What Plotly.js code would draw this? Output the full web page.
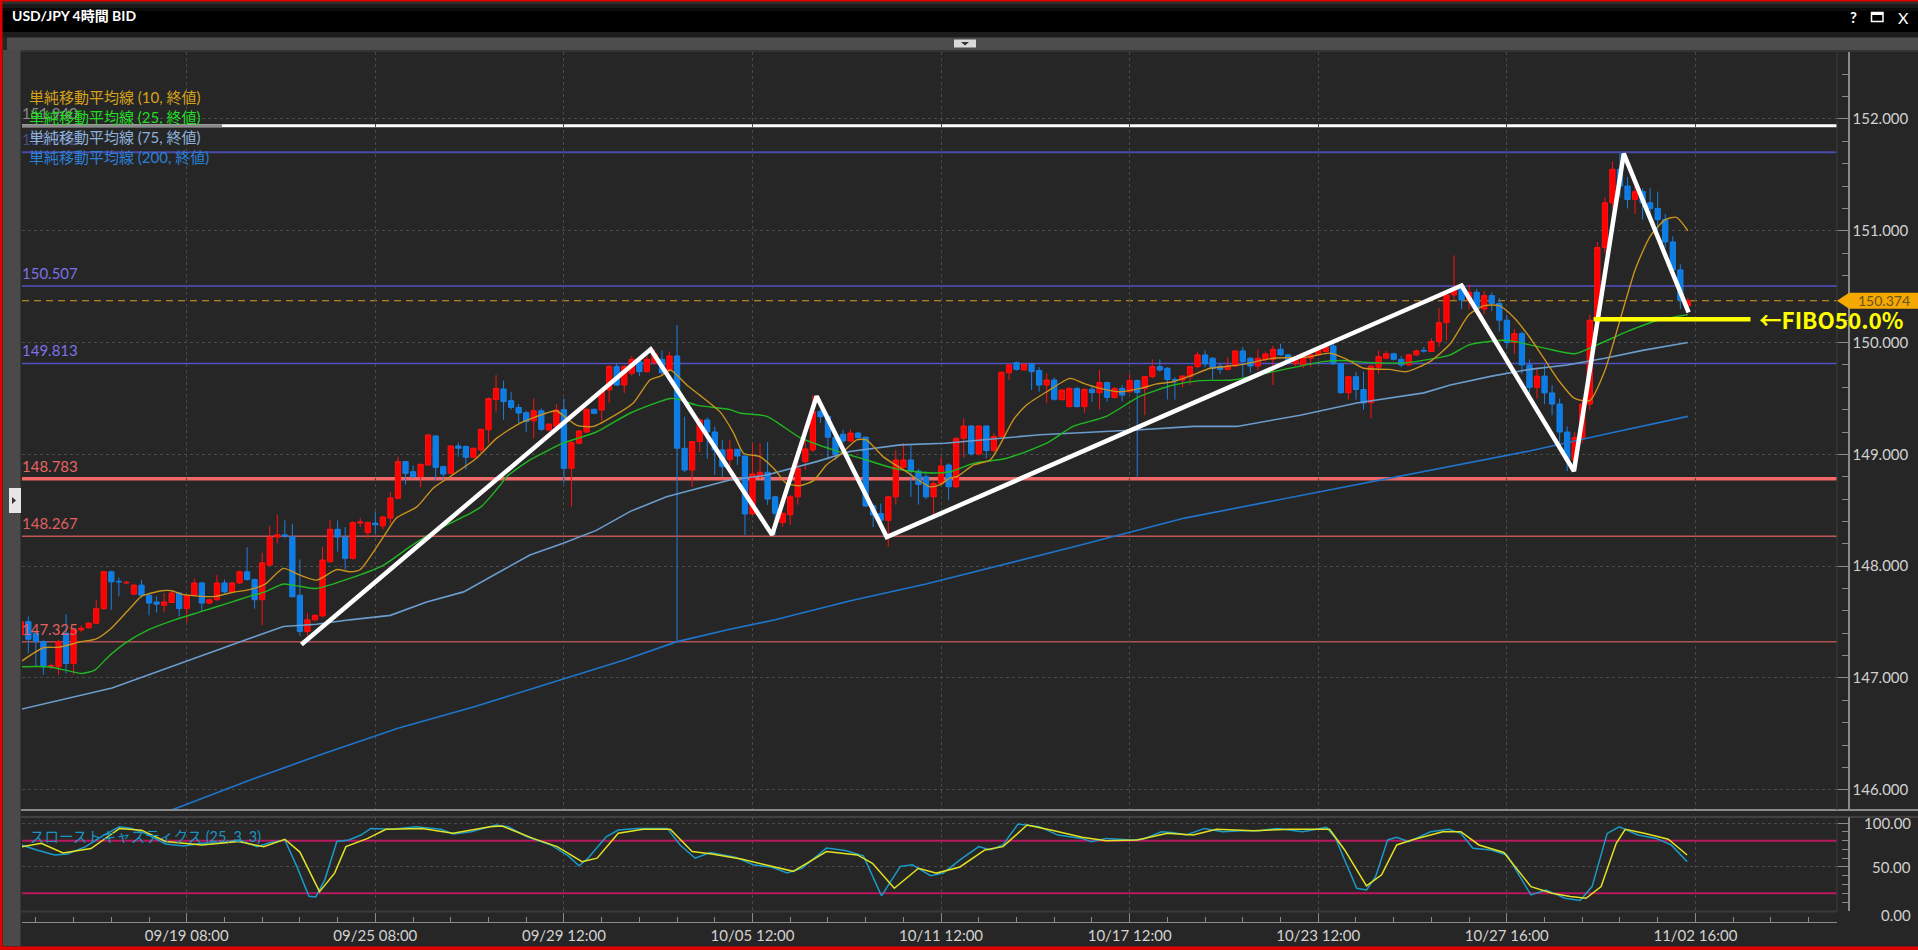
<!DOCTYPE html>
<html><head><meta charset="utf-8">
<script src="https://cdn.plot.ly/plotly-3.0.1.min.js"></script>
<style>html,body{margin:0;padding:0;background:#262626;overflow:hidden}#chart{width:1918px;height:950px}</style>
</head><body><div id="chart"></div><script>
// ---------------- DATA ----------------
const opens = [147.385,147.504,147.40,147.325,147.10,147.10,147.40,147.13,147.43,147.45,
147.49,147.62,147.95,147.865,147.85,147.75,147.83,147.74,147.68,147.65,
147.675,147.76,147.62,147.74,147.85,147.67,147.70,147.85,147.77,147.85,
147.95,147.88,147.70,148.01,148.26,148.28,148.264,147.74,147.415,147.52,
147.555,148.04,148.33,148.26,148.07,148.385,148.30,148.385,148.36,148.43,
148.607,148.935,148.845,148.80,148.905,149.165,148.89,148.83,149.075,149.07,
148.974,149.04,149.22,149.49,149.585,149.48,149.42,149.373,149.30,149.39,
149.218,149.25,149.40,148.875,149.10,149.20,149.403,149.397,149.576,149.785,
149.62,149.725,149.83,149.74,149.82,149.85,149.755,149.88,149.054,148.86,
149.114,149.308,149.20,149.04,148.956,149.045,148.985,148.467,148.80,148.84,
148.62,148.39,148.46,148.62,148.935,149.04,149.383,149.34,149.15,149.18,
149.12,149.19,149.153,148.54,148.47,148.41,148.62,148.885,148.95,148.85,
148.80,148.62,148.74,148.905,148.71,149.144,149.254,149.003,149.254,149.034,
149.16,149.73,149.82,149.755,149.81,149.75,149.62,149.665,149.49,149.427,
149.59,149.427,149.582,149.552,149.642,149.51,149.59,149.56,149.66,149.59,
149.695,149.785,149.77,149.67,149.665,149.695,149.785,149.889,149.86,149.79,
149.76,149.79,149.925,149.86,149.79,149.85,149.85,149.94,149.89,149.81,
149.80,149.86,149.89,149.92,149.97,149.81,149.552,149.695,149.58,149.462,
149.78,149.86,149.90,149.85,149.80,149.89,149.93,149.92,150.01,150.178,
150.426,150.48,150.38,150.45,150.30,150.42,150.35,150.20,150.00,150.08,
149.80,149.60,149.70,149.55,149.45,149.20,148.95,149.15,149.45,150.20,
150.85,151.25,151.55,151.40,151.28,151.35,151.25,151.20,151.10,150.90,
150.65,150.33];
const highs = [147.55,147.55,147.43,147.34,147.13,147.34,147.57,147.45,147.47,147.50,
147.70,147.96,147.96,147.90,147.87,147.84,147.88,147.75,147.73,147.76,
147.77,147.77,147.75,147.89,147.86,147.71,147.92,147.88,147.86,147.96,
148.17,147.89,148.12,148.36,148.46,148.41,148.38,148.06,147.58,147.57,
148.17,148.41,148.41,148.35,148.40,148.43,148.40,148.49,148.45,148.66,
148.98,148.94,148.90,148.92,149.18,149.17,148.90,149.08,149.105,149.08,
149.06,149.23,149.51,149.71,149.66,149.56,149.45,149.39,149.50,149.41,
149.28,149.45,149.50,149.12,149.22,149.41,149.41,149.57,149.80,149.82,
149.80,149.88,149.87,149.88,149.94,149.93,149.92,150.157,149.337,149.12,
149.32,149.33,149.25,149.13,149.13,149.05,148.99,149.10,149.10,149.11,
148.63,148.48,148.64,148.93,149.13,149.531,149.40,149.35,149.20,149.22,
149.225,149.20,149.16,148.55,148.56,148.63,149.04,149.10,149.08,148.87,
148.85,148.76,148.974,148.92,149.15,149.32,149.26,149.26,149.26,149.19,
149.74,149.81,149.83,149.82,149.82,149.78,149.725,149.69,149.58,149.60,
149.60,149.59,149.61,149.755,149.65,149.60,149.62,149.72,149.67,149.70,
149.85,149.85,149.78,149.69,149.71,149.79,149.92,149.93,149.87,149.81,
149.87,149.93,149.96,149.87,149.94,149.92,149.97,149.99,149.90,149.88,
149.91,149.92,149.95,149.98,149.99,149.82,149.70,149.74,149.74,149.80,
149.93,149.925,149.91,149.88,149.90,149.94,149.96,150.04,150.307,150.43,
150.78,150.51,150.52,150.48,150.46,150.45,150.40,150.25,150.12,150.10,
149.85,149.78,149.80,149.62,149.50,149.25,149.20,149.50,150.25,150.90,
151.30,151.62,151.70,151.48,151.40,151.38,151.38,151.35,151.15,150.95,
150.70,150.40];
const lows = [147.36,147.22,147.10,147.03,147.08,147.03,147.04,147.03,147.41,147.44,
147.48,147.61,147.61,147.73,147.84,147.74,147.72,147.56,147.585,147.585,
147.67,147.55,147.50,147.73,147.59,147.66,147.69,147.76,147.76,147.84,
147.87,147.62,147.47,148.00,148.205,148.25,147.72,147.376,147.38,147.51,
147.54,148.03,148.13,147.97,148.06,148.35,148.25,148.29,148.33,148.38,
148.60,148.73,148.79,148.705,148.90,148.77,148.76,148.82,148.98,148.866,
148.97,149.00,149.10,149.38,149.31,149.40,149.28,149.20,149.144,149.21,
149.21,149.24,148.741,148.533,149.09,149.19,149.36,149.30,149.46,149.61,
149.55,149.70,149.70,149.73,149.80,149.72,149.74,147.325,148.84,148.71,
149.02,148.96,148.816,148.80,148.89,148.905,148.279,148.46,148.78,148.548,
148.28,148.35,148.37,148.55,148.86,149.02,149.28,148.95,148.95,149.10,
149.11,149.14,148.53,148.35,148.40,148.175,148.55,148.87,148.62,148.55,
148.60,148.428,148.72,148.59,148.70,148.97,148.99,148.99,148.965,149.02,
149.15,149.665,149.75,149.75,149.576,149.56,149.46,149.48,149.48,149.42,
149.42,149.373,149.47,149.40,149.47,149.50,149.47,149.55,148.80,149.35,
149.68,149.74,149.49,149.49,149.60,149.62,149.77,149.78,149.67,149.72,
149.75,149.78,149.69,149.73,149.75,149.83,149.62,149.88,149.82,149.79,
149.77,149.78,149.88,149.91,149.80,149.54,149.49,149.49,149.40,149.323,
149.72,149.85,149.84,149.78,149.79,149.88,149.91,149.92,149.96,150.02,
150.38,150.30,150.30,150.25,150.25,150.28,150.10,149.95,149.90,149.72,
149.55,149.50,149.45,149.35,149.10,148.85,148.88,149.10,149.40,150.15,
150.80,151.20,151.30,151.20,151.15,151.10,151.12,151.00,150.85,150.60,
150.30,150.27];
const closes = [147.504,147.346,147.325,147.10,147.11,147.325,147.13,147.43,147.445,147.49,
147.62,147.95,147.86,147.86,147.855,147.83,147.74,147.67,147.66,147.68,
147.76,147.62,147.74,147.85,147.67,147.70,147.85,147.77,147.85,147.95,
147.88,147.70,148.03,148.26,148.28,148.27,147.727,147.415,147.52,147.56,
148.055,148.33,148.26,148.07,148.39,148.395,148.39,148.37,148.44,148.61,
148.935,148.83,148.80,148.91,149.174,148.884,148.824,149.075,149.055,148.974,
149.055,149.224,149.50,149.59,149.472,149.42,149.37,149.293,149.39,149.224,
149.27,149.397,148.875,149.105,149.209,149.403,149.367,149.561,149.785,149.62,
149.785,149.85,149.74,149.85,149.90,149.73,149.88,149.055,148.86,149.114,
149.308,149.20,149.04,148.89,149.045,148.985,148.467,148.825,148.84,148.60,
148.473,148.473,148.62,148.875,149.048,149.382,149.337,149.153,149.00,149.12,
149.19,149.15,148.538,148.458,148.41,148.62,148.95,148.95,148.85,148.73,
148.62,148.74,148.896,148.71,149.144,149.254,149.003,149.254,149.034,149.16,
149.734,149.80,149.76,149.805,149.74,149.62,149.665,149.493,149.576,149.59,
149.427,149.582,149.552,149.642,149.51,149.59,149.53,149.66,149.553,149.695,
149.785,149.755,149.67,149.66,149.70,149.785,149.89,149.81,149.77,149.76,
149.79,149.925,149.83,149.79,149.86,149.898,149.94,149.89,149.83,149.86,
149.90,149.89,149.93,149.96,149.81,149.552,149.695,149.58,149.46,149.79,
149.874,149.90,149.85,149.80,149.89,149.925,149.925,150.01,150.178,150.426,
150.48,150.38,150.45,150.30,150.42,150.35,150.20,150.00,150.08,149.80,
149.60,149.70,149.55,149.45,149.20,148.95,149.15,149.45,150.20,150.85,
151.25,151.55,151.40,151.28,151.35,151.25,151.20,151.10,150.90,150.65,
150.38,150.374];

const xTickIdx  = [22, 47, 72, 97, 122, 147, 172, 197, 222];
const xTickText = ['09/19 08:00','09/25 08:00','09/29 12:00','10/05 12:00','10/11 12:00','10/17 12:00','10/23 12:00','10/27 16:00','11/02 16:00'];

const sma10Idx = [0,3,5,8,10,12,14.7,16,18.7,20,21.3,24,25.8,28,30.3,32.4,34.8,37,39.2,41.9,43.6,45,48.1,49.8,52.5,54.7,56.9,60.4,63.1,66.2,69.7,71,72.4,73.7,75.9,78.5,81.2,83.4,84.8,86.1,88.3,90,92.7,94.5,95.8,98,99.8,101.5,103.3,105.1,106.8,108.6,110.8,112.1,114.3,117.4,120.5,121.9,123.2,124.1,126.3,128.5,129.8,131.6,133.3,136,139.1,140.9,143.1,145.7,148.4,150.6,152.8,155,157.7,161.6,166,170.5,173.6,175.8,178,181.4,183.7,186.8,189.5,192,194,196,198,200,202,204,206,208,210,212,214,216,218,219.5,221];
const sma10Val = [147.145,147.27,147.275,147.325,147.35,147.445,147.64,147.73,147.78,147.78,147.75,147.73,147.73,147.765,147.79,147.84,147.98,147.92,147.875,147.97,147.95,147.97,148.265,148.43,148.53,148.70,148.80,148.965,149.145,149.28,149.37,149.39,149.32,149.26,149.25,149.34,149.46,149.665,149.70,149.755,149.62,149.53,149.38,149.19,149.01,148.98,148.875,148.74,148.72,148.765,148.905,148.995,149.13,149.13,148.98,148.845,148.71,148.73,148.79,148.80,148.905,148.95,149.085,149.31,149.44,149.56,149.68,149.635,149.59,149.56,149.59,149.63,149.65,149.70,149.77,149.80,149.86,149.87,149.905,149.85,149.77,149.76,149.74,149.83,149.99,150.25,150.33,150.33,150.22,150.05,149.85,149.65,149.50,149.48,149.75,150.20,150.65,150.95,151.10,151.12,151.00];

const sma25Idx = [0,3.6,5.9,8.1,9.8,11.6,13.8,16.9,20.4,24,27.5,30.3,32.4,34.8,37,39.2,43.6,48.1,51.6,55.1,59.5,61,63.5,64.4,67.5,71.9,76.3,80.8,86.1,87.3,89.6,94,95.3,98.9,103.3,107.7,112.1,115.7,120.1,123.2,126.3,130.7,136,139.5,143.9,148.4,152.8,156.3,160.7,166,172.7,175,179.3,183.7,189.5,192,197,202,206,209,213,217,221];
const sma25Val = [147.10,147.10,147.07,147.04,147.07,147.19,147.31,147.43,147.52,147.595,147.67,147.73,147.77,147.84,147.82,147.80,147.89,148.01,148.175,148.32,148.47,148.53,148.72,148.80,148.95,149.10,149.20,149.37,149.50,149.49,149.44,149.40,149.37,149.34,149.15,149.04,148.95,148.875,148.835,148.845,148.92,148.965,149.10,149.25,149.34,149.52,149.62,149.66,149.665,149.74,149.83,149.84,149.82,149.82,149.89,149.98,150.02,149.95,149.90,149.98,150.10,150.20,150.25];

const sma75Idx = [0,12.1,30.4,34.8,39.2,43.6,49,53.8,58.7,60.9,63.5,67.5,71.9,76.3,80.8,85.6,90,94,98.9,105.5,109.9,116.6,122.5,135.1,148.4,155.5,161.2,169.6,177.1,186,189.5,195,200,205,210,215,221];
const sma75Val = [146.72,146.91,147.355,147.46,147.48,147.52,147.56,147.68,147.77,147.85,147.95,148.10,148.205,148.32,148.49,148.62,148.70,148.77,148.815,148.935,149.025,149.085,149.10,149.175,149.22,149.25,149.25,149.35,149.46,149.55,149.62,149.70,149.76,149.80,149.86,149.93,150.00];

const sma200Idx = [17,20.8,30.5,40,50,60,70,80,87,94,100,110,120,130,140,154.3,165,175,185,190,200,210,221];
const sma200Val = [145.75,145.84,146.09,146.32,146.55,146.74,146.95,147.16,147.325,147.435,147.52,147.69,147.84,148.01,148.18,148.43,148.57,148.70,148.83,148.90,149.03,149.18,149.34];

const stochKIdx = [0.1,2.1,4.5,6.2,8.6,11,13.1,14.7,16.7,19.2,21.6,24,26.5,28.9,31.3,33,35,36.6,38.2,39.1,40.3,41.9,43.5,45.1,46.4,49.2,52.4,55.7,57.3,59.7,63,64.6,67.1,70.3,72.7,74,75.2,77.6,79.2,81.7,85.7,87.4,89.4,91.4,94.7,97.1,99.5,101.6,103.6,106.8,109.3,111.7,114.1,116.6,118.2,120.6,122.3,124.5,127,128.5,130.2,132.2,135,137.5,140.7,141.9,143.9,147.2,148.8,151.2,152.9,154.5,156.9,159.3,161.8,164.2,166.6,169.9,173.1,174.3,175.5,177.1,178.4,179.6,181.2,182.4,184,186.9,189.3,190.9,192.5,194.9,197,200.2,202.2,204.7,206.7,208.3,210.3,211.9,214.4,216.8,218.8,220.9];
const stochKVal = [75.1,69.4,63.7,64.8,73.2,86.4,95.9,94,87.6,76.2,74,77,77.7,80.8,73.2,77.7,80.8,50.4,16.6,15.8,35.3,79,80.8,86.4,94,92.9,95.9,92.9,87.6,90.2,97.8,95.9,84.5,75.1,61.8,51.3,60,84.5,92.1,94,94,75.1,60,66.5,61.2,52.5,49.9,43.1,48.7,71.5,68.8,62.7,17.1,50.6,52.5,40,43,58,73.2,69.4,75.1,99,96,86.4,82.6,78.9,82.6,80.8,81.6,90.2,89.1,86.4,94,90.2,91.3,91.3,94,90.2,95.1,82.6,57.9,25.6,23.8,38.9,80.8,83.8,78.9,90.2,92.9,88.3,71.3,69.4,63.7,18.2,23.8,14.3,11.7,27.6,88.3,95.9,86.4,82.6,75.1,56.1];
const stochDIdx = [0.1,2.7,5.6,9.3,13.1,16,19.2,24,28.9,32.2,35,37,39.6,41.6,43.1,46,48.4,53.2,57.3,62.2,63.8,67.9,71.1,74.4,76.4,79.2,82.5,86.1,89,91.4,95.5,99.5,102.4,106.8,110.9,112.9,115.8,119,121.4,124.5,127.8,130.2,133.4,136.7,140.7,143.9,148,152,155.4,158.5,163.4,168.2,173.5,175.5,178.4,180.4,182.4,184.4,188.5,190.9,193.3,196.6,200.2,203,205.4,207.5,209.5,211.5,212.7,215.2,218.4,220.9];
const stochDVal = [73,77,66,71,94,92,79,75,79,73,81.6,67,21.8,43,73.2,82.6,93,94,88.4,95.9,96.7,82.6,73.2,56,60,88.4,93,93,67.6,65,59,50.6,45,67.6,63.7,54.2,25.7,48.5,43,50,69.4,73.2,97.8,92,83.8,79.8,80.8,88.4,86.4,93,91.3,93,93,69.4,28.5,41,75.1,80.8,90.2,90.2,75.1,66.5,27.6,20,16.2,14.3,27.6,77,93,88.4,81.6,63.7];
const stochLevels = [80, 20];

const levels      = [151.940, 151.702, 150.507, 149.813, 148.783, 148.267, 147.325];
const levelLabels = ['151.940','151.702','150.507','149.813','148.783','148.267','147.325'];
const lastPrice = 150.374;
const fiboLevel = 150.208, fiboFrom = 208.5, fiboTo = 229.3;
const zigIdx   = [37.2, 83.5, 99.6, 105.5, 114.8, 191.0, 205.9, 212.5, 221.1];
const zigPrice = [147.30, 149.94, 148.28, 149.52, 148.26, 150.51, 148.85, 151.69, 150.27];
const maNames = ['単純移動平均線 (10, 終値)','単純移動平均線 (25, 終値)','単純移動平均線 (75, 終値)','単純移動平均線 (200, 終値)'];

// ---------------- LAYOUT HELPERS ----------------
const W = 1918, H = 950;
const X = p => p / W, Y = p => 1 - p / H;
const idx = opens.map((_, i) => i);
const FONT = 'Lato, "Noto Sans CJK JP", sans-serif';
const JP = '"Noto Sans CJK JP", Lato, sans-serif';
const mainRange = [145.819, 152.599];
const mainPx = 810 - 52;
const pricePerPx = (mainRange[1] - mainRange[0]) / mainPx;

const traces = [
  {type:'candlestick', x: idx, open: opens, high: highs, low: lows, close: closes,
   increasing:{line:{color:'#ff1010', width:1}, fillcolor:'#ff0000'},
   decreasing:{line:{color:'#1a7fe0', width:1}, fillcolor:'#0a7ee8'},
   whiskerwidth:0, xaxis:'x', yaxis:'y', hoverinfo:'skip'},
  {type:'scatter', mode:'lines', x: sma200Idx, y: sma200Val, line:{color:'#1f74cc', width:1.6}, yaxis:'y'},
  {type:'scatter', mode:'lines', x: sma75Idx, y: sma75Val, line:{color:'#6b9ccc', width:1.6}, yaxis:'y'},
  {type:'scatter', mode:'lines', x: sma25Idx, y: sma25Val, line:{color:'#20b820', width:1.4, shape:'spline', smoothing:0.6}, yaxis:'y'},
  {type:'scatter', mode:'lines', x: sma10Idx, y: sma10Val, line:{color:'#c8921e', width:1.4, shape:'spline', smoothing:0.6}, yaxis:'y'},
  {type:'scatter', mode:'lines', x: zigIdx, y: zigPrice, line:{color:'#ffffff', width:4.5}, yaxis:'y'},
  {type:'scatter', mode:'lines', x: [fiboFrom, fiboTo], y: [fiboLevel, fiboLevel], line:{color:'#ffff00', width:4.5}, yaxis:'y', cliponaxis:false},
  {type:'scatter', mode:'lines', x: stochKIdx, y: stochKVal, line:{color:'#1a9ac8', width:1.5}, yaxis:'y2'},
  {type:'scatter', mode:'lines', x: stochDIdx, y: stochDVal, line:{color:'#e2e222', width:1.5}, yaxis:'y2'}
];

const levelStyle = [
  {color:'#ffffff', width:3},
  {color:'#4a4aa8', width:2},
  {color:'#5252c4', width:1.5},
  {color:'#5252c4', width:1.5},
  {color:'#f06868', width:3.5},
  {color:'#c05656', width:1.5},
  {color:'#b05252', width:1.5}
];
const labelColor = ['#d8d8d8','#6868d0','#7a72e6','#7a72e6','#e86464','#e06060','#e06060'];

const shapes = [];
const annotations = [];
const rectPx = (x0,y0,x1,y1,fill,layer) => shapes.push({type:'rect', xref:'paper', yref:'paper', x0:X(x0), x1:X(x1), y0:Y(y1), y1:Y(y0), fillcolor:fill, line:{width:0}, layer: layer||'above'});
const linePx = (x0,y0,x1,y1,color,w) => shapes.push({type:'line', xref:'paper', yref:'paper', x0:X(x0), x1:X(x1), y0:Y(y0), y1:Y(y1), line:{color:color, width:w}, layer:'above'});
rectPx(0,0,W,32,'#000000');
rectPx(0,0,W,4,'#2e2e2e');
rectPx(0,4,W,8,'#1a1a1a');
rectPx(0,8,W,11,'#0b0b0b');
rectPx(0,32,W,37.5,'#1c1c1c');
rectPx(7,37.5,W,50,'#4d4d4d');
linePx(7,51,W,51,'#3a3a3a',1.5);
rectPx(954,39.5,976,47.5,'#d8d8d8');
shapes.push({type:'path', xref:'paper', yref:'paper', path:`M ${X(961)} ${Y(42)} L ${X(969)} ${Y(42)} L ${X(965)} ${Y(45.5)} Z`, fillcolor:'#333', line:{width:0}, layer:'above'});
rectPx(3,50,20.5,946,'#4a4a4a');
rectPx(9,488,21,513,'#e6e6e6');
shapes.push({type:'path', xref:'paper', yref:'paper', path:`M ${X(12)} ${Y(497)} L ${X(16)} ${Y(500.5)} L ${X(12)} ${Y(504)} Z`, fillcolor:'#333', line:{width:0}, layer:'above'});
linePx(21,810,W,810,'#8a8a8a',2);
linePx(21,817,W,817,'#5a5a5a',1.2);
linePx(1837,52,1837,810,'#3a3a3a',1.2);
linePx(1837,817,1837,911,'#3a3a3a',1.2);
linePx(21,911.5,1837,911.5,'#3a3a3a',2);
shapes.push({type:'rect', xref:'paper', yref:'paper', x0:X(1871.5), x1:X(1883), y0:Y(21.5), y1:Y(12.5), line:{color:'#ffffff', width:1.5}, fillcolor:'rgba(0,0,0,0)', layer:'above'});
rectPx(1871.5,12.5,1883,15,'#ffffff');
rectPx(0,0,W,1.5,'#e00000');
rectPx(0,0,2.5,H,'#e00000');
rectPx(0,946.5,W,H,'#e00000');

levels.forEach((v,k) => {
  shapes.push({type:'line', xref:'x domain', yref:'y', x0:0, x1:1, y0:v, y1:v, line:levelStyle[k], layer:'below'});
});
shapes.push({type:'line', xref:'x domain', yref:'y', x0:0, x1:(222-22)/(1837-22), y0:levels[0], y1:levels[0], line:{color:'#8a8a8a', width:3}, layer:'above'});
shapes.push({type:'line', xref:'x domain', yref:'y', x0:0, x1:1, y0:lastPrice, y1:lastPrice, line:{color:'#d8a020', width:1.2, dash:'7px,5px'}, layer:'below'});
stochLevels.forEach(v => shapes.push({type:'line', xref:'x domain', yref:'y2', x0:0, x1:1, y0:v, y1:v, line:{color:'#b8185e', width:2}, layer:'below'}));
const half = 8 * pricePerPx;
shapes.push({type:'path', xref:'paper', yref:'y', path:`M ${X(1837)} ${lastPrice} L ${X(1849)} ${lastPrice+half} L ${X(W)} ${lastPrice+half} L ${X(W)} ${lastPrice-half} L ${X(1849)} ${lastPrice-half} Z`, fillcolor:'#f5a800', line:{width:0}, layer:'above'});

levels.forEach((v,k) => {
  annotations.push({xref:'paper', yref:'y', x:X(20), y:v, xanchor:'left', yanchor:'middle', yshift:13, showarrow:false,
    text:levelLabels[k], font:{family:FONT, size:15, color:labelColor[k]}, opacity: k < 2 ? 0.55 : 1});
});
const maColors = ['#d6a21c','#22dd22','#8db2dc','#2a80d8'];
const maY = [97, 116.7, 136.7, 156.7];
maNames.forEach((t,k) => annotations.push({xref:'paper', yref:'paper', x:X(27), y:Y(maY[k]), xanchor:'left', yanchor:'middle', showarrow:false,
  text:t, font:{family:FONT, size:15, color:maColors[k]}}));
annotations.push({xref:'paper', yref:'paper', x:X(28), y:Y(836.5), xanchor:'left', yanchor:'middle', showarrow:false,
  text:'スローストキャスティクス (25, 3, 3)', font:{family:FONT, size:14.5, color:'#1a94c2'}});
[100, 50, 0].forEach(v => annotations.push({xref:'paper', yref:'y2', x:X(1913), y:v, xanchor:'right', yanchor:'middle', yshift: v === 0 ? -4 : 0, showarrow:false,
  text:v.toFixed(2), font:{family:FONT, size:15, color:'#d0d0d0'}}));
annotations.push({xref:'paper', yref:'y', x:X(1884), y:lastPrice, xanchor:'center', yanchor:'middle', showarrow:false,
  text:lastPrice.toFixed(3), font:{family:FONT, size:14, color:'#6a5420'}});
annotations.push({xref:'paper', yref:'y', x:X(1757), y:fiboLevel, xanchor:'left', yanchor:'middle', showarrow:false,
  text:'<b>←FIBO50.0%</b>', font:{family:JP, size:22.5, color:'#ffff00'}});
annotations.push({xref:'paper', yref:'paper', x:X(10), y:Y(16), xanchor:'left', yanchor:'middle', showarrow:false,
  text:'<b>USD/JPY 4時間 BID</b>', font:{family:FONT, size:14, color:'#ffffff'}});
annotations.push({xref:'paper', yref:'paper', x:X(1853), y:Y(17), xanchor:'center', yanchor:'middle', showarrow:false,
  text:'<b>?</b>', font:{family:FONT, size:15, color:'#ffffff'}});
annotations.push({xref:'paper', yref:'paper', x:X(1903), y:Y(17), xanchor:'center', yanchor:'middle', showarrow:false,
  text:'X', font:{family:FONT, size:16, color:'#ffffff'}});

const layout = {
  width: W, height: H,
  margin: {l:0, r:0, t:0, b:0},
  paper_bgcolor: '#262626', plot_bgcolor: '#262626',
  showlegend: false,
  boxgap: 0.3, boxgroupgap: 0.0,
  xaxis: {domain:[X(22), X(1837)], range:[0.159, 240.77], anchor:'free', position: Y(921.7),
    tickmode:'array', tickvals:xTickIdx, ticktext:xTickText, ticks:'inside', ticklen:9, tickcolor:'#8a8a8a',
    showline:true, linecolor:'#8a8a8a', linewidth:1.5,
    showgrid:true, gridcolor:'#4a4a4a', griddash:'dot', gridwidth:1, zeroline:false,
    tickfont:{family:FONT, size:15, color:'#d2d2d2'},
    minor:{tickmode:'linear', tick0:2, dtick:5, ticks:'inside', ticklen:5, tickcolor:'#8a8a8a', showgrid:false},
    rangeslider:{visible:false}, fixedrange:true},
  yaxis: {domain:[Y(810), Y(52)], range: mainRange, anchor:'free', position: X(1848), side:'right',
    tickmode:'linear', tick0:0, dtick:1, tickformat:'.3f', ticks:'inside', ticklen:11, tickcolor:'#8a8a8a',
    showline:true, linecolor:'#8a8a8a', linewidth:1.5,
    showgrid:true, gridcolor:'#4a4a4a', griddash:'dot', zeroline:false,
    tickfont:{family:FONT, size:15, color:'#d2d2d2'},
    minor:{dtick:0.2, ticks:'inside', ticklen:6, tickcolor:'#8a8a8a', showgrid:false}, fixedrange:true},
  yaxis2: {domain:[Y(911), Y(817)], range:[-0.23, 107], anchor:'free', position: X(1848), side:'right',
    tickmode:'linear', tick0:0, dtick:50, ticks:'inside', ticklen:11, tickcolor:'#8a8a8a', showticklabels:false,
    showline:true, linecolor:'#8a8a8a', linewidth:1.5,
    showgrid:true, gridcolor:'#4a4a4a', griddash:'dot', zeroline:false,
    minor:{dtick:10, ticks:'inside', ticklen:6, tickcolor:'#8a8a8a', showgrid:false}, fixedrange:true},
  shapes: shapes,
  annotations: annotations
};

Plotly.newPlot('chart', traces, layout, {displayModeBar:false, staticPlot:true});
</script></body></html>
